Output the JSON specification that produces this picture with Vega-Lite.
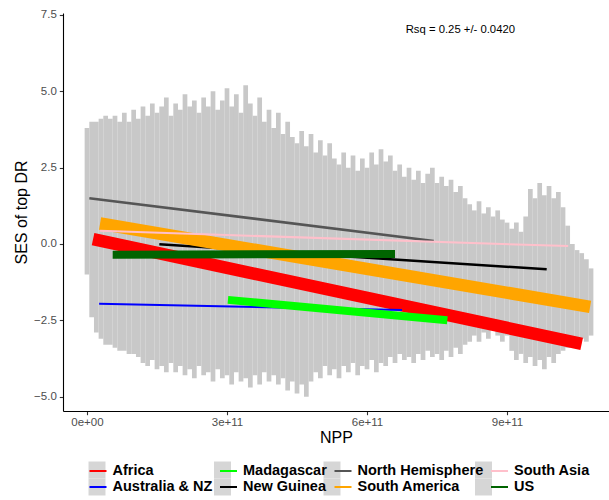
{
  "$schema": "https://vega.github.io/schema/vega-lite/v6.json",
  "width": 546,
  "height": 398,
  "autosize": {"type": "none"},
  "padding": {"left": 63, "top": 13, "right": 0, "bottom": 89},
  "background": "white",
  "datasets": {
    "cloud": [
      {"npp": 0, "hi": 3.8, "lo": -1.0},
      {"npp": 1e10, "hi": 4.0, "lo": -2.4},
      {"npp": 2e10, "hi": 4.0, "lo": -2.9},
      {"npp": 3e10, "hi": 4.1, "lo": -3.1},
      {"npp": 4e10, "hi": 4.2, "lo": -3.3},
      {"npp": 5e10, "hi": 4.1, "lo": -3.3},
      {"npp": 6e10, "hi": 4.2, "lo": -3.4},
      {"npp": 7e10, "hi": 4.0, "lo": -3.5},
      {"npp": 8e10, "hi": 4.3, "lo": -3.5},
      {"npp": 9e10, "hi": 4.0, "lo": -3.6},
      {"npp": 10e10, "hi": 4.4, "lo": -3.6},
      {"npp": 11e10, "hi": 4.1, "lo": -3.7},
      {"npp": 12e10, "hi": 4.5, "lo": -3.9},
      {"npp": 13e10, "hi": 4.2, "lo": -4.0},
      {"npp": 14e10, "hi": 4.6, "lo": -3.8},
      {"npp": 15e10, "hi": 4.3, "lo": -4.1},
      {"npp": 16e10, "hi": 4.5, "lo": -4.0},
      {"npp": 17e10, "hi": 4.8, "lo": -4.2},
      {"npp": 18e10, "hi": 4.2, "lo": -3.9},
      {"npp": 19e10, "hi": 4.6, "lo": -4.2},
      {"npp": 20e10, "hi": 4.4, "lo": -4.0},
      {"npp": 21e10, "hi": 4.9, "lo": -4.3},
      {"npp": 22e10, "hi": 4.5, "lo": -4.1},
      {"npp": 23e10, "hi": 4.7, "lo": -4.4},
      {"npp": 24e10, "hi": 4.3, "lo": -4.0},
      {"npp": 25e10, "hi": 4.8, "lo": -4.3},
      {"npp": 26e10, "hi": 4.5, "lo": -4.2},
      {"npp": 27e10, "hi": 5.0, "lo": -4.5},
      {"npp": 28e10, "hi": 4.4, "lo": -4.1},
      {"npp": 29e10, "hi": 4.7, "lo": -4.4},
      {"npp": 30e10, "hi": 5.1, "lo": -4.3},
      {"npp": 31e10, "hi": 4.5, "lo": -4.6},
      {"npp": 32e10, "hi": 4.9, "lo": -4.2},
      {"npp": 33e10, "hi": 4.3, "lo": -4.5},
      {"npp": 34e10, "hi": 5.2, "lo": -4.4},
      {"npp": 35e10, "hi": 4.6, "lo": -4.7},
      {"npp": 36e10, "hi": 4.2, "lo": -4.3},
      {"npp": 37e10, "hi": 4.8, "lo": -4.6},
      {"npp": 38e10, "hi": 4.0, "lo": -4.2},
      {"npp": 39e10, "hi": 4.4, "lo": -4.5},
      {"npp": 40e10, "hi": 3.8, "lo": -4.3},
      {"npp": 41e10, "hi": 4.3, "lo": -4.6},
      {"npp": 42e10, "hi": 3.6, "lo": -4.4},
      {"npp": 43e10, "hi": 4.0, "lo": -4.8},
      {"npp": 44e10, "hi": 3.5, "lo": -4.5},
      {"npp": 45e10, "hi": 3.3, "lo": -4.9},
      {"npp": 46e10, "hi": 3.7, "lo": -4.6},
      {"npp": 47e10, "hi": 3.2, "lo": -5.0},
      {"npp": 48e10, "hi": 3.6, "lo": -4.5},
      {"npp": 49e10, "hi": 3.0, "lo": -4.2},
      {"npp": 50e10, "hi": 3.4, "lo": -4.4},
      {"npp": 51e10, "hi": 2.9, "lo": -4.0},
      {"npp": 52e10, "hi": 3.3, "lo": -4.3},
      {"npp": 53e10, "hi": 2.8, "lo": -4.1},
      {"npp": 54e10, "hi": 2.6, "lo": -4.4},
      {"npp": 55e10, "hi": 3.0, "lo": -4.0},
      {"npp": 56e10, "hi": 2.5, "lo": -4.2},
      {"npp": 57e10, "hi": 2.9, "lo": -3.9},
      {"npp": 58e10, "hi": 2.4, "lo": -4.3},
      {"npp": 59e10, "hi": 2.8, "lo": -4.0},
      {"npp": 60e10, "hi": 2.5, "lo": -4.1},
      {"npp": 61e10, "hi": 3.0, "lo": -3.8},
      {"npp": 62e10, "hi": 2.6, "lo": -4.2},
      {"npp": 63e10, "hi": 3.1, "lo": -3.9},
      {"npp": 64e10, "hi": 2.7, "lo": -4.0},
      {"npp": 65e10, "hi": 2.9, "lo": -3.7},
      {"npp": 66e10, "hi": 2.4, "lo": -3.9},
      {"npp": 67e10, "hi": 2.6, "lo": -3.6},
      {"npp": 68e10, "hi": 2.2, "lo": -3.8},
      {"npp": 69e10, "hi": 2.5, "lo": -3.7},
      {"npp": 70e10, "hi": 2.1, "lo": -3.9},
      {"npp": 71e10, "hi": 2.4, "lo": -3.6},
      {"npp": 72e10, "hi": 2.0, "lo": -3.8},
      {"npp": 73e10, "hi": 2.3, "lo": -3.5},
      {"npp": 74e10, "hi": 2.5, "lo": -3.7},
      {"npp": 75e10, "hi": 2.0, "lo": -3.6},
      {"npp": 76e10, "hi": 2.2, "lo": -3.8},
      {"npp": 77e10, "hi": 1.9, "lo": -3.5},
      {"npp": 78e10, "hi": 2.1, "lo": -3.7},
      {"npp": 79e10, "hi": 1.7, "lo": -3.4},
      {"npp": 80e10, "hi": 1.9, "lo": -3.6},
      {"npp": 81e10, "hi": 1.5, "lo": -3.3},
      {"npp": 82e10, "hi": 1.3, "lo": -3.2},
      {"npp": 83e10, "hi": 1.1, "lo": -3.0},
      {"npp": 84e10, "hi": 1.4, "lo": -3.2},
      {"npp": 85e10, "hi": 1.0, "lo": -2.9},
      {"npp": 86e10, "hi": 1.2, "lo": -3.1},
      {"npp": 87e10, "hi": 0.9, "lo": -2.8},
      {"npp": 88e10, "hi": 1.1, "lo": -3.0},
      {"npp": 89e10, "hi": 0.8, "lo": -3.2},
      {"npp": 90e10, "hi": 0.7, "lo": -3.0},
      {"npp": 91e10, "hi": 0.5, "lo": -3.5},
      {"npp": 92e10, "hi": 0.7, "lo": -3.8},
      {"npp": 93e10, "hi": 0.4, "lo": -3.6},
      {"npp": 94e10, "hi": 0.9, "lo": -3.9},
      {"npp": 95e10, "hi": 1.8, "lo": -3.7},
      {"npp": 96e10, "hi": 1.5, "lo": -4.0},
      {"npp": 97e10, "hi": 2.0, "lo": -3.8},
      {"npp": 98e10, "hi": 1.6, "lo": -4.1},
      {"npp": 99e10, "hi": 1.9, "lo": -3.7},
      {"npp": 100e10, "hi": 1.5, "lo": -3.9},
      {"npp": 101e10, "hi": 1.7, "lo": -3.6},
      {"npp": 102e10, "hi": 1.2, "lo": -3.5},
      {"npp": 103e10, "hi": 0.6, "lo": -3.4},
      {"npp": 104e10, "hi": 0.0, "lo": -3.2},
      {"npp": 105e10, "hi": -0.2, "lo": -3.3},
      {"npp": 106e10, "hi": -0.3, "lo": -3.1},
      {"npp": 107e10, "hi": -0.5, "lo": -3.2},
      {"npp": 108e10, "hi": -0.8, "lo": -3.0}
    ],
    "fits": [
      {"region": "Africa", "x1": 1.3e10, "y1": 0.16, "x2": 1.06e12, "y2": -3.27},
      {"region": "Australia & NZ", "x1": 2.6e10, "y1": -1.96, "x2": 6.75e11, "y2": -2.16},
      {"region": "Madagascar", "x1": 3.02e11, "y1": -1.83, "x2": 7.72e11, "y2": -2.5},
      {"region": "New Guinea", "x1": 1.55e11, "y1": -0.01, "x2": 9.85e11, "y2": -0.83},
      {"region": "North Hemisphere", "x1": 5e9, "y1": 1.5, "x2": 7.43e11, "y2": 0.1},
      {"region": "South America", "x1": 2.8e10, "y1": 0.67, "x2": 1.078e12, "y2": -2.06},
      {"region": "South Asia", "x1": 2.8e10, "y1": 0.43, "x2": 1.031e12, "y2": -0.07},
      {"region": "US", "x1": 5.5e10, "y1": -0.35, "x2": 6.6e11, "y2": -0.33}
    ],
    "note": [
      {"x": 8e11, "y": 7.0, "label": "Rsq = 0.25 +/- 0.0420"}
    ]
  },
  "layer": [
    {
      "data": {"name": "cloud"},
      "mark": {"type": "rule", "strokeWidth": 4.7, "color": "#c8c8c8"},
      "encoding": {
        "x": {
          "field": "npp", "type": "quantitative", "title": "NPP",
          "scale": {"domain": [-5.14e10, 1.1185e12], "nice": false, "zero": false},
          "axis": {
            "values": [0, 3e11, 6e11, 9e11],
            "labelExpr": "datum.value == 0 ? '0e+00' : format(datum.value, '.0e')",
            "labelPadding": 2, "titlePadding": 1, "labelFlush": false
          }
        },
        "y": {
          "field": "lo", "type": "quantitative", "title": "SES of top DR",
          "scale": {"domain": [-5.47, 7.565], "nice": false, "zero": false},
          "axis": {"values": [-5, -2.5, 0, 2.5, 5, 7.5], "format": ".1f", "labelPadding": 3, "titlePadding": 4}
        },
        "y2": {"field": "hi"}
      }
    },
    {
      "data": {"name": "fits"},
      "mark": {"type": "point", "shape": "square", "filled": true, "opacity": 0},
      "encoding": {
        "x": {"field": "x1", "type": "quantitative", "title": "NPP"},
        "y": {"field": "y1", "type": "quantitative", "title": "SES of top DR"},
        "fill": {
          "field": "region", "type": "nominal",
          "scale": {"range": ["#d6d6d6", "#d6d6d6", "#d6d6d6", "#d6d6d6", "#d6d6d6", "#d6d6d6", "#d6d6d6", "#d6d6d6"]},
          "legend": {
            "title": null, "orient": "none", "legendX": 25.5, "legendY": 448.5,
            "columns": 4, "columnPadding": 3.5, "rowPadding": 0, "padding": 0,
            "symbolType": "square", "symbolSize": 289, "symbolOpacity": 1,
            "symbolStrokeWidth": 0, "symbolStrokeColor": "transparent",
            "labelFontSize": 14.5, "labelFontWeight": "bold", "labelColor": "transparent",
            "labelOffset": 5, "zindex": 0
          }
        }
      }
    },
    {
      "data": {"name": "fits"},
      "mark": {"type": "rule", "strokeCap": "butt"},
      "encoding": {
        "x": {"field": "x1", "type": "quantitative", "title": "NPP"},
        "y": {"field": "y1", "type": "quantitative", "title": "SES of top DR"},
        "x2": {"field": "x2"},
        "y2": {"field": "y2"},
        "stroke": {
          "field": "region", "type": "nominal",
          "scale": {
            "domain": ["Africa", "Australia & NZ", "Madagascar", "New Guinea", "North Hemisphere", "South America", "South Asia", "US"],
            "range": ["#ff0000", "#0000ff", "#00ff00", "#000000", "#555555", "#ffa500", "#ffc0cb", "#006400"]
          },
          "legend": {
            "title": null, "orient": "none", "legendX": 25.5, "legendY": 448.5,
            "columns": 4, "columnPadding": 3.5, "rowPadding": 0, "padding": 0,
            "symbolType": "stroke", "symbolSize": 289, "symbolStrokeWidth": 2,
            "labelFontSize": 14.5, "labelFontWeight": "bold", "labelColor": "#000000",
            "labelOffset": 5, "zindex": 1
          }
        },
        "strokeWidth": {
          "field": "region", "type": "nominal",
          "scale": {
            "type": "ordinal",
            "domain": ["US", "South Asia", "South America", "North Hemisphere", "New Guinea", "Madagascar", "Australia & NZ", "Africa"],
            "range": [8, 2, 12.5, 2.5, 2.5, 8, 2, 12.5]
          },
          "legend": null
        }
      }
    },
    {
      "data": {"name": "note"},
      "mark": {"type": "text", "fontSize": 11.3, "color": "#000000", "align": "center", "baseline": "middle"},
      "encoding": {
        "x": {"field": "x", "type": "quantitative", "title": "NPP"},
        "y": {"field": "y", "type": "quantitative", "title": "SES of top DR"},
        "text": {"field": "label"}
      }
    }
  ],
  "config": {
    "font": "Liberation Sans",
    "view": {"stroke": null},
    "axis": {
      "grid": false,
      "domainColor": "#000000", "domainWidth": 1.1,
      "tickColor": "#333333", "tickSize": 3.7, "tickWidth": 1.1,
      "labelColor": "#4d4d4d", "labelFontSize": 11.5, "labelFont": "Liberation Sans",
      "titleFontSize": 16, "titleFontWeight": "normal", "titleColor": "#000000", "titleFont": "Liberation Sans"
    },
    "legend": {"labelFont": "Liberation Sans"}
  }
}
